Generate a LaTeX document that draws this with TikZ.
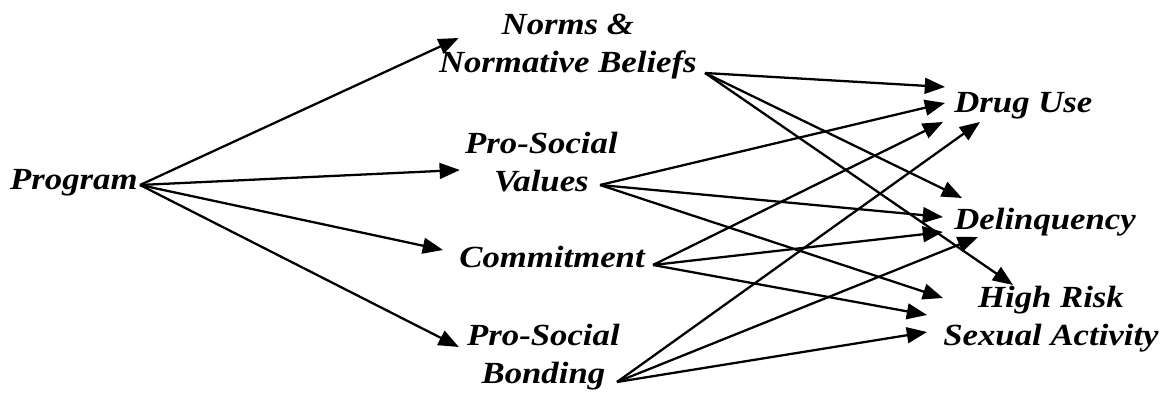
\documentclass[tikz,border=0pt]{standalone}
\usepackage{fontspec}
\setmainfont{Liberation Serif}[FakeStretch=1.13]
\usetikzlibrary{arrows.meta}

\begin{document}
\begin{tikzpicture}[x=0.02cm,y=-0.02cm]
\tikzstyle{every node}=[font=\fontsize{17.5}{21.5}\selectfont\bfseries\itshape,inner sep=0pt]
\tikzstyle{twoline}=[align=center]
\tikzstyle{link}=[line width=1.3pt,-{Triangle[length=11.5pt,width=9pt]}]
\useasboundingbox (0,0) rectangle (1161,394);
\node[anchor=base east] (prog) at (138,190) {Program};
\node[twoline,anchor=north east] (norms) at (697,14) {Norms \&\\Normative Beliefs};
\node[twoline,anchor=north east] (values) at (618,132) {Pro-Social\\Values};
\node[anchor=base east] (comm) at (645,268) {Commitment};
\node[twoline,anchor=north east] (bond) at (620,324) {Pro-Social\\Bonding};
\node[anchor=base west] (drug) at (954,113) {Drug Use};
\node[anchor=base west] (delinq) at (954,230) {Delinquency};
\node[twoline,anchor=north west] (risk) at (943,286) {High Risk\\Sexual Activity};
\coordinate (prog-o) at ([shift={(2,-5)}]prog.base east);
\coordinate (norms-o) at ([shift={(8,59)}]norms.north east);
\coordinate (values-o) at ([shift={(-18,53)}]values.north east);
\coordinate (comm-o) at ([shift={(8,-3)}]comm.base east);
\coordinate (bond-o) at ([shift={(-3,58)}]bond.north east);
\draw[link] (prog-o) -- ([shift={(20,24)}]norms.north west);
\draw[link] (prog-o) -- ([shift={(-5,38)}]values.north west);
\draw[link] (prog-o) -- ([shift={(-16,-18)}]comm.base west);
\draw[link] (prog-o) -- ([shift={(-8,23)}]bond.north west);
\draw[link] (norms-o) -- ([shift={(-9,-26)}]drug.base west);
\draw[link] (norms-o) -- ([shift={(8,-32)}]delinq.base west);
\draw[link] (norms-o) -- ([shift={(70,-1)}]risk.north west);
\draw[link] (values-o) -- ([shift={(-9,-10)}]drug.base west);
\draw[link] (values-o) -- ([shift={(-11,-13)}]delinq.base west);
\draw[link] (values-o) -- ([shift={(0,12)}]risk.north west);
\draw[link] (comm-o) -- ([shift={(-11,9)}]drug.base west);
\draw[link] (comm-o) -- ([shift={(-11,2)}]delinq.base west);
\draw[link] (comm-o) -- ([shift={(-16,29)}]risk.north west);
\draw[link] (bond-o) -- ([shift={(26,9)}]drug.base west);
\draw[link] (bond-o) -- ([shift={(24,7)}]delinq.base west);
\draw[link] (bond-o) -- ([shift={(-16,46)}]risk.north west);
\end{tikzpicture}
\end{document}
